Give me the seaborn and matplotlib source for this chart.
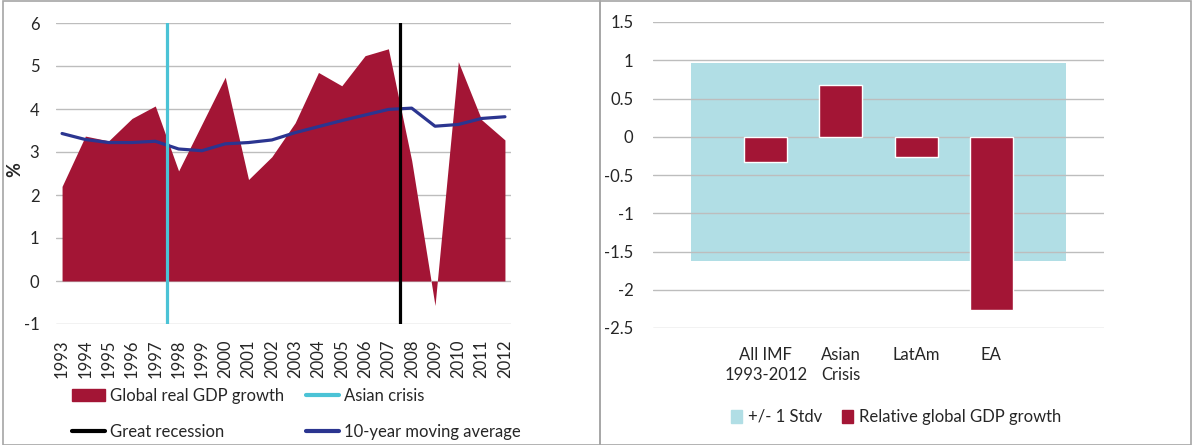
import numpy as np
import matplotlib
matplotlib.use("Agg")
import matplotlib.pyplot as plt
import matplotlib.patches as mpatches
from matplotlib.lines import Line2D
import seaborn as sns

# -------------------------------
# data
# -------------------------------
years = list(range(1993, 2013))
gdp_growth = [2.2, 3.37, 3.26, 3.78, 4.07, 2.56, 3.65, 4.74, 2.36, 2.89,
              3.68, 4.85, 4.54, 5.24, 5.40, 2.80, -0.57, 5.10, 3.75, 3.28]
moving_avg = [3.43, 3.29, 3.22, 3.22, 3.25, 3.07, 3.03, 3.19, 3.22, 3.28,
              3.45, 3.59, 3.73, 3.86, 3.99, 4.02, 3.60, 3.64, 3.78, 3.82]
asian_crisis_x = 1997.5
great_recession_x = 2007.5
left_yticks = [-1, 0, 1, 2, 3, 4, 5, 6]
left_yticklabels = ["-1", "0", "1", "2", "3", "4", "5", "6"]

categories = ["All IMF\n1993-2012", "Asian\nCrisis", "LatAm", "EA"]
rel_growth = [-0.33, 0.67, -0.27, -2.27]
band_x = [-1, 4]
band_hi = [0.96, 0.96]
band_lo = [-1.63, -1.63]
right_yticks = [-2.5, -2, -1.5, -1, -0.5, 0, 0.5, 1, 1.5]
right_yticklabels = ["-2.5", "-2", "-1.5", "-1", "-0.5", "0", "0.5", "1", "1.5"]

# -------------------------------
# colours / style
# -------------------------------
CRIMSON = "#A31535"
CYAN = "#4BC3D6"
NAVY = "#2B3590"
BAND = "#B1DEE5"
GRID = "#BDBDBD"

sns.set_theme(style="white")
plt.rcParams["font.family"] = ["Lato", "DejaVu Sans"]
plt.rcParams["axes.unicode_minus"] = False
FS = 12

W, H = 1192, 445
fig = plt.figure(figsize=(W / 100, H / 100), dpi=100)


def fx(px):
    return px / W


def fy(py):
    return 1 - py / H


# -------------------------------
# left panel
# -------------------------------
ax1 = fig.add_axes([fx(56), fy(324), fx(511 - 56), (324 - 23) / H])
ax1.set_axisbelow(True)
ax1.fill_between(years, gdp_growth, 0, color=CRIMSON, lw=0, zorder=1)
sns.lineplot(x=years, y=moving_avg, ax=ax1, color=NAVY, lw=2.3, zorder=3)
ax1.axvline(asian_crisis_x, color=CYAN, lw=2.3, zorder=4)
ax1.axvline(great_recession_x, color="black", lw=2.3, zorder=4)

ax1.set_xlim(1992.74, 2012.26)
ax1.set_ylim(-1, 6)
ax1.set_yticks(left_yticks)
ax1.set_yticklabels(left_yticklabels, fontsize=FS)
ax1.set_xticks(years)
ax1.set_xticklabels([str(y) for y in years], rotation=90, fontsize=FS)
ax1.yaxis.grid(True, color=GRID, lw=1)
ax1.tick_params(axis="both", length=0)
ax1.tick_params(axis="y", pad=12)
ax1.tick_params(axis="x", pad=11)
for s in ax1.spines.values():
    s.set_visible(False)
ax1.set_ylabel("%", fontsize=FS + 1, fontweight="bold")
ax1.yaxis.set_label_coords((23 - 56) / (511 - 56), (324 - 170) / (324 - 23))

h_area = mpatches.Patch(color=CRIMSON)
h_rec = Line2D([], [], color="black", lw=3)
h_asia = Line2D([], [], color=CYAN, lw=3)
h_ma = Line2D([], [], color=NAVY, lw=3)
leg_kw = dict(frameon=False, fontsize=FS, handlelength=2.0, handletextpad=0.3,
              labelspacing=1.2, borderpad=0, borderaxespad=0, loc="upper left")
fig.legend([h_area, h_rec], ["Global real GDP growth", "Great recession"],
           bbox_to_anchor=(fx(72), fy(388)), **leg_kw)
fig.legend([h_asia, h_ma], ["Asian crisis", "10-year moving average"],
           bbox_to_anchor=(fx(306), fy(388)), **leg_kw)

# -------------------------------
# right panel
# -------------------------------
ax2 = fig.add_axes([fx(653), fy(328), fx(1104 - 653), (328 - 22) / H])
ax2.set_axisbelow(True)
ax2.fill_between(band_x, band_lo, band_hi, color=BAND, lw=0, zorder=0.4)
sns.barplot(x=categories, y=rel_growth, ax=ax2, color=CRIMSON, width=0.57,
            saturation=1, zorder=2)
ax2.set_xlim(-1.5, 4.5)
ax2.set_ylim(-2.5, 1.5)
ax2.set_yticks(right_yticks)
ax2.set_yticklabels(right_yticklabels, fontsize=FS)
ax2.set_xticks(range(len(categories)))
ax2.set_xticklabels(categories, fontsize=FS, linespacing=1.25, va="top")
ax2.yaxis.grid(True, color=GRID, lw=1, zorder=1)
ax2.tick_params(axis="both", length=0)
ax2.tick_params(axis="y", pad=14)
ax2.tick_params(axis="x", pad=14)
for s in ax2.spines.values():
    s.set_visible(False)
ax2.set_xlabel("")
ax2.set_ylabel("")

fig.legend([mpatches.Patch(color=BAND), mpatches.Patch(color=CRIMSON)],
           ["+/- 1 Stdv", "Relative global GDP growth"],
           loc="center left", bbox_to_anchor=(fx(731), fy(417)), ncol=2,
           frameon=False, fontsize=FS, handlelength=0.65, handleheight=0.8,
           handletextpad=0.35, columnspacing=1.2, borderpad=0, borderaxespad=0)

# panel borders
for x0, x1 in [(3, 600), (600, 1191)]:
    fig.patches.append(mpatches.Rectangle((fx(x0), 0), fx(x1 - x0), fy(1),
                                          transform=fig.transFigure, fill=False,
                                          edgecolor="#A6A6A6", lw=1.2))

fig.savefig("out.png", dpi=100)
